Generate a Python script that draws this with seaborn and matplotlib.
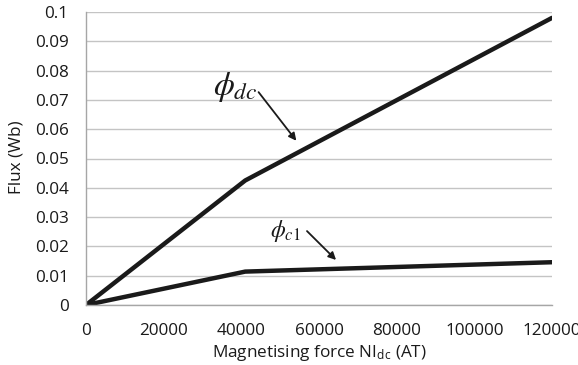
import numpy as np
import pandas as pd
import matplotlib
matplotlib.use("Agg")
import matplotlib.pyplot as plt
import seaborn as sns

# values
force = [0, 41000, 120000]
phi_dc = [0, 0.0425, 0.098]
phi_c1 = [0, 0.0114, 0.0146]
xticks = [0, 20000, 40000, 60000, 80000, 100000, 120000]
yticks = [0, 0.01, 0.02, 0.03, 0.04, 0.05, 0.06, 0.07, 0.08, 0.09, 0.1]
ytick_labels = ['0', '0.01', '0.02', '0.03', '0.04', '0.05', '0.06', '0.07', '0.08', '0.09', '0.1']

df = pd.DataFrame({'force': force, 'dc': phi_dc, 'c1': phi_c1})

sns.set_style("white")
plt.rcParams['font.family'] = ['Open Sans', 'DejaVu Sans']
plt.rcParams['mathtext.fontset'] = 'stix'

fs = 12.3
fig = plt.figure(figsize=(5.78, 3.65), dpi=100)
ax = fig.add_axes([86 / 578, 60 / 365, 466 / 578, 293 / 365])

sns.lineplot(data=df, x='force', y='dc', ax=ax, color='#1a1a1a', linewidth=3.2)
sns.lineplot(data=df, x='force', y='c1', ax=ax, color='#1a1a1a', linewidth=3.2)

ax.set_xlim(0, 120000)
ax.set_ylim(0, 0.1)
ax.set_xticks(xticks)
ax.set_xticklabels([str(v) for v in xticks])
ax.set_yticks(yticks)
ax.set_yticklabels(ytick_labels)
ax.grid(axis='y', color='#c4c4c4', linewidth=1.0)
ax.set_axisbelow(True)

for s in ['top', 'right']:
    ax.spines[s].set_visible(False)
for s in ['left', 'bottom']:
    ax.spines[s].set_color('#a6a6a6')
    ax.spines[s].set_linewidth(1.0)

ax.tick_params(axis='x', direction='out', length=7, width=1, color='#a6a6a6',
               labelsize=fs, pad=6, labelcolor='#1a1a1a')
ax.tick_params(axis='y', direction='out', length=3.6, width=1, color='#a6a6a6',
               labelsize=fs, pad=9, labelcolor='#1a1a1a')

ax.set_xlabel(r'Magnetising force NI$_{\mathregular{dc}}$ (AT)', fontsize=fs, color='#1a1a1a')
ax.xaxis.set_label_coords(0.5, -0.13)
ax.set_ylabel('Flux (Wb)', fontsize=fs, color='#1a1a1a')
ax.yaxis.set_label_coords(-0.133, 0.505)

# curve labels with arrows
ax.text(32700, 0.0717, r'$\phi_{dc}$', fontsize=24, ha='left', va='baseline', color='#1a1a1a')
ax.annotate('', xy=(54600, 0.0553), xytext=(44000, 0.0734),
            arrowprops=dict(arrowstyle='-|>', color='#1a1a1a', lw=1.3, mutation_scale=11))
ax.text(47400, 0.0232, r'$\phi_{c1}$', fontsize=17, ha='left', va='baseline', color='#1a1a1a')
ax.annotate('', xy=(64900, 0.0147), xytext=(56400, 0.0259),
            arrowprops=dict(arrowstyle='-|>', color='#1a1a1a', lw=1.3, mutation_scale=11))

fig.savefig('out.png', dpi=100)
